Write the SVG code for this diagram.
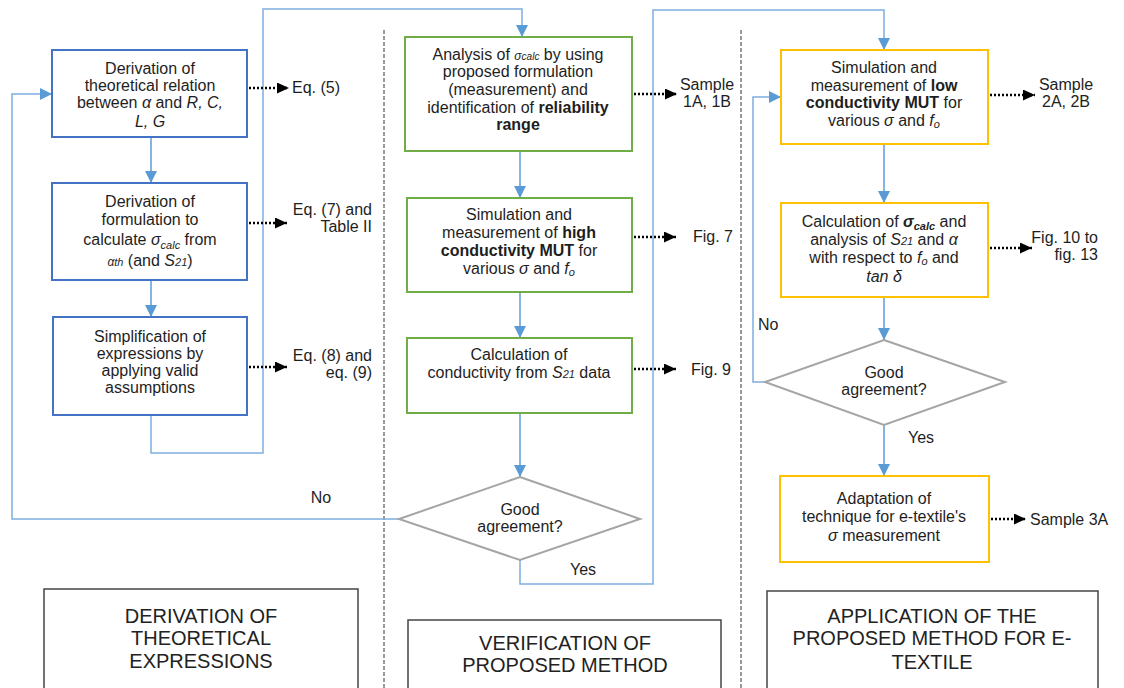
<svg xmlns="http://www.w3.org/2000/svg" width="1124" height="688" viewBox="0 0 1124 688">
<style>
text { font-family: "Liberation Sans", Arial, sans-serif; fill: #1e1e1e; }
.n { font-size: 16px; text-anchor: middle; }
.l { font-size: 16px; }
.r { text-anchor: end; }
.m { text-anchor: middle; }
.t { font-size: 20px; text-anchor: middle; fill: #222; }
.i { font-style: italic; }
.b { font-weight: bold; }
.s { font-size: 11px; font-style: italic; }
.bx { fill: #fff; stroke-width: 2; }
.blue { stroke: #4472C4; }
.green { stroke: #70AD47; }
.yellow { stroke: #FFC000; }
.dia { fill: #fff; stroke: #A5A5A5; stroke-width: 2; }
.ttl { fill: #fff; stroke: #444; stroke-width: 1.5; }
.c { fill: none; stroke: #5B9BD5; stroke-width: 1.5; }
.lp { fill: none; stroke: #7FAEE0; stroke-width: 1.5; }
.d { fill: none; stroke: #000; stroke-width: 2.5; stroke-dasharray: 2 2; }
.div { fill: none; stroke: #333; stroke-width: 1; stroke-dasharray: 4 2; }
</style>
<defs>
<marker id="ab" markerUnits="userSpaceOnUse" markerWidth="12" markerHeight="12" refX="12" refY="6" orient="auto">
<path d="M0,0 L12,6 L0,12 z" fill="#5B9BD5"/>
</marker>
<marker id="ak" markerUnits="userSpaceOnUse" markerWidth="12" markerHeight="11" refX="12" refY="5.5" orient="auto">
<path d="M0,0 L12,5.5 L0,11 z" fill="#000"/>
</marker>
</defs>
<rect width="1124" height="688" fill="#fff"/>

<g id="dividers">
<line class="div" x1="384" y1="30" x2="384" y2="688"/>
<line class="div" x1="741" y1="30" x2="741" y2="688"/>
</g>

<g id="connectors">
<path class="lp" d="M399,519 H12 V94 H52" marker-end="url(#ab)"/>
<path class="c" d="M151,137 V183" marker-end="url(#ab)"/>
<path class="c" d="M151,280 V317" marker-end="url(#ab)"/>
<path class="lp" d="M151,415 V453 H263 V9 H522 V37" marker-end="url(#ab)"/>
<path class="c" d="M520,151 V198" marker-end="url(#ab)"/>
<path class="c" d="M520,292 V338" marker-end="url(#ab)"/>
<path class="c" d="M520,413 V477" marker-end="url(#ab)"/>
<path class="lp" d="M520,560 V584 H653 V10 H884 V50" marker-end="url(#ab)"/>
<path class="c" d="M884,144 V203" marker-end="url(#ab)"/>
<path class="c" d="M884,297 V340" marker-end="url(#ab)"/>
<path class="lp" d="M765,382 H753 V97 H781" marker-end="url(#ab)"/>
<path class="c" d="M884,425 V476" marker-end="url(#ab)"/>
<path class="d" d="M249,88 H289" marker-end="url(#ak)"/>
<path class="d" d="M249,223 H287" marker-end="url(#ak)"/>
<path class="d" d="M249,367 H287" marker-end="url(#ak)"/>
<path class="d" d="M634,94 H677" marker-end="url(#ak)"/>
<path class="d" d="M634,237 H676" marker-end="url(#ak)"/>
<path class="d" d="M634,369 H676" marker-end="url(#ak)"/>
<path class="d" d="M990,95 H1035" marker-end="url(#ak)"/>
<path class="d" d="M990,248 H1032" marker-end="url(#ak)"/>
<path class="d" d="M991,519 H1026" marker-end="url(#ak)"/>
<text class="n" x="321" y="503">No</text>
<text class="n" x="583" y="575">Yes</text>
<text x="758" y="330" style="font-size:16px">No</text>
<text x="908" y="443" style="font-size:16px">Yes</text>
</g>

<g id="n-theory">
<rect class="bx blue" x="52" y="50" width="195" height="87"/>
<text class="n" x="150" y="74">Derivation of</text>
<text class="n" x="150" y="91">theoretical relation</text>
<text class="n" x="150" y="108">between <tspan class="i">α</tspan> and <tspan class="i">R, C,</tspan></text>
<text class="n" x="150" y="127"><tspan class="i">L, G</tspan></text>
</g>
<g id="n-formulation">
<rect class="bx blue" x="52" y="183" width="195" height="97"/>
<text class="n" x="150" y="207">Derivation of</text>
<text class="n" x="150" y="225">formulation to</text>
<text class="n" x="150" y="245">calculate <tspan class="i">σ</tspan><tspan class="s" dy="4">calc</tspan><tspan dy="-4"> from</tspan></text>
<text class="n" x="150" y="266"><tspan class="i" style="font-size:12px">α</tspan><tspan class="s">th</tspan> (and <tspan class="i">S</tspan><tspan class="s">21</tspan>)</text>
</g>
<g id="n-simplification">
<rect class="bx blue" x="53" y="317" width="194" height="98"/>
<text class="n" x="150" y="342">Simplification of</text>
<text class="n" x="150" y="359">expressions by</text>
<text class="n" x="150" y="376">applying valid</text>
<text class="n" x="150" y="393">assumptions</text>
</g>
<g id="l-left">
<text class="l" x="292" y="93">Eq. (5)</text>
<text class="l r" x="372" y="215">Eq. (7) and</text>
<text class="l r" x="372" y="232">Table II</text>
<text class="l r" x="372" y="361">Eq. (8) and</text>
<text class="l r" x="372" y="378">eq. (9)</text>
</g>

<g id="n-analysis">
<rect class="bx green" x="405" y="37" width="227" height="114"/>
<text class="n" x="518" y="60">Analysis of <tspan class="i" style="font-size:12px">σ</tspan><tspan class="s" style="font-size:10px">calc</tspan> by using</text>
<text class="n" x="518" y="77">proposed formulation</text>
<text class="n" x="518" y="95">(measurement) and</text>
<text class="n" x="518" y="113">identification of <tspan class="b">reliability</tspan></text>
<text class="n b" x="518" y="130">range</text>
</g>
<g id="n-high">
<rect class="bx green" x="407" y="198" width="225" height="94"/>
<text class="n" x="519" y="220">Simulation and</text>
<text class="n" x="519" y="238">measurement of <tspan class="b">high</tspan></text>
<text class="n" x="519" y="256"><tspan class="b">conductivity MUT</tspan> for</text>
<text class="n" x="519" y="274">various <tspan class="i">σ</tspan> and <tspan class="i">f</tspan><tspan class="s" dy="2">o</tspan></text>
</g>
<g id="n-calc">
<rect class="bx green" x="407" y="338" width="225" height="75"/>
<text class="n" x="519" y="360">Calculation of</text>
<text class="n" x="519" y="378">conductivity from <tspan class="i">S</tspan><tspan class="s">21</tspan> data</text>
</g>
<g id="n-agree1">
<polygon class="dia" points="520,477 640,519 520,560 399,519"/>
<text class="n" x="520" y="515">Good</text>
<text class="n" x="520" y="532">agreement?</text>
</g>
<g id="l-mid">
<text class="l m" x="707" y="90">Sample</text>
<text class="l m" x="707" y="107">1A, 1B</text>
<text class="l" x="693" y="242">Fig. 7</text>
<text class="l" x="691" y="375">Fig. 9</text>
</g>

<g id="n-low">
<rect class="bx yellow" x="781" y="50" width="207" height="94"/>
<text class="n" x="884" y="73">Simulation and</text>
<text class="n" x="884" y="91">measurement of <tspan class="b">low</tspan></text>
<text class="n" x="884" y="108"><tspan class="b">conductivity MUT</tspan> for</text>
<text class="n" x="884" y="126">various <tspan class="i">σ</tspan> and <tspan class="i">f</tspan><tspan class="s" dy="2">o</tspan></text>
</g>
<g id="n-calc2">
<rect class="bx yellow" x="781" y="203" width="207" height="94"/>
<text class="n" x="884" y="227">Calculation of <tspan class="b i">σ</tspan><tspan class="s b" dy="3">calc</tspan><tspan dy="-3"> and</tspan></text>
<text class="n" x="884" y="245">analysis of <tspan class="i">S</tspan><tspan class="s">21</tspan> and <tspan class="i">α</tspan></text>
<text class="n" x="884" y="263">with respect to <tspan class="i">f</tspan><tspan class="s" dy="2">o</tspan><tspan dy="-2"> and</tspan></text>
<text class="n i" x="884" y="282">tan δ</text>
</g>
<g id="n-agree2">
<polygon class="dia" points="884,340 1005,382 884,425 765,382"/>
<text class="n" x="884" y="378">Good</text>
<text class="n" x="884" y="395">agreement?</text>
</g>
<g id="n-adapt">
<rect class="bx yellow" x="780" y="476" width="209" height="86"/>
<text class="n" x="884" y="504">Adaptation of</text>
<text class="n" x="884" y="522">technique for e-textile's</text>
<text class="n" x="884" y="541"><tspan class="i">σ</tspan> measurement</text>
</g>
<g id="l-right">
<text class="l m" x="1066" y="90">Sample</text>
<text class="l m" x="1066" y="107">2A, 2B</text>
<text class="l r" x="1098" y="243">Fig. 10 to</text>
<text class="l r" x="1098" y="260">fig. 13</text>
<text class="l" x="1030" y="525">Sample 3A</text>
</g>

<g id="t-derivation">
<rect class="ttl" x="44" y="589" width="314" height="110"/>
<text class="t" x="201" y="623">DERIVATION OF</text>
<text class="t" x="201" y="645">THEORETICAL</text>
<text class="t" x="201" y="668">EXPRESSIONS</text>
</g>
<g id="t-verification">
<rect class="ttl" x="408" y="620" width="313" height="80"/>
<text class="t" x="565" y="650">VERIFICATION OF</text>
<text class="t" x="565" y="672">PROPOSED METHOD</text>
</g>
<g id="t-application">
<rect class="ttl" x="767" y="591" width="331" height="110"/>
<text class="t" x="932" y="623">APPLICATION OF THE</text>
<text class="t" x="932" y="645">PROPOSED METHOD FOR E-</text>
<text class="t" x="932" y="669">TEXTILE</text>
</g>
</svg>
